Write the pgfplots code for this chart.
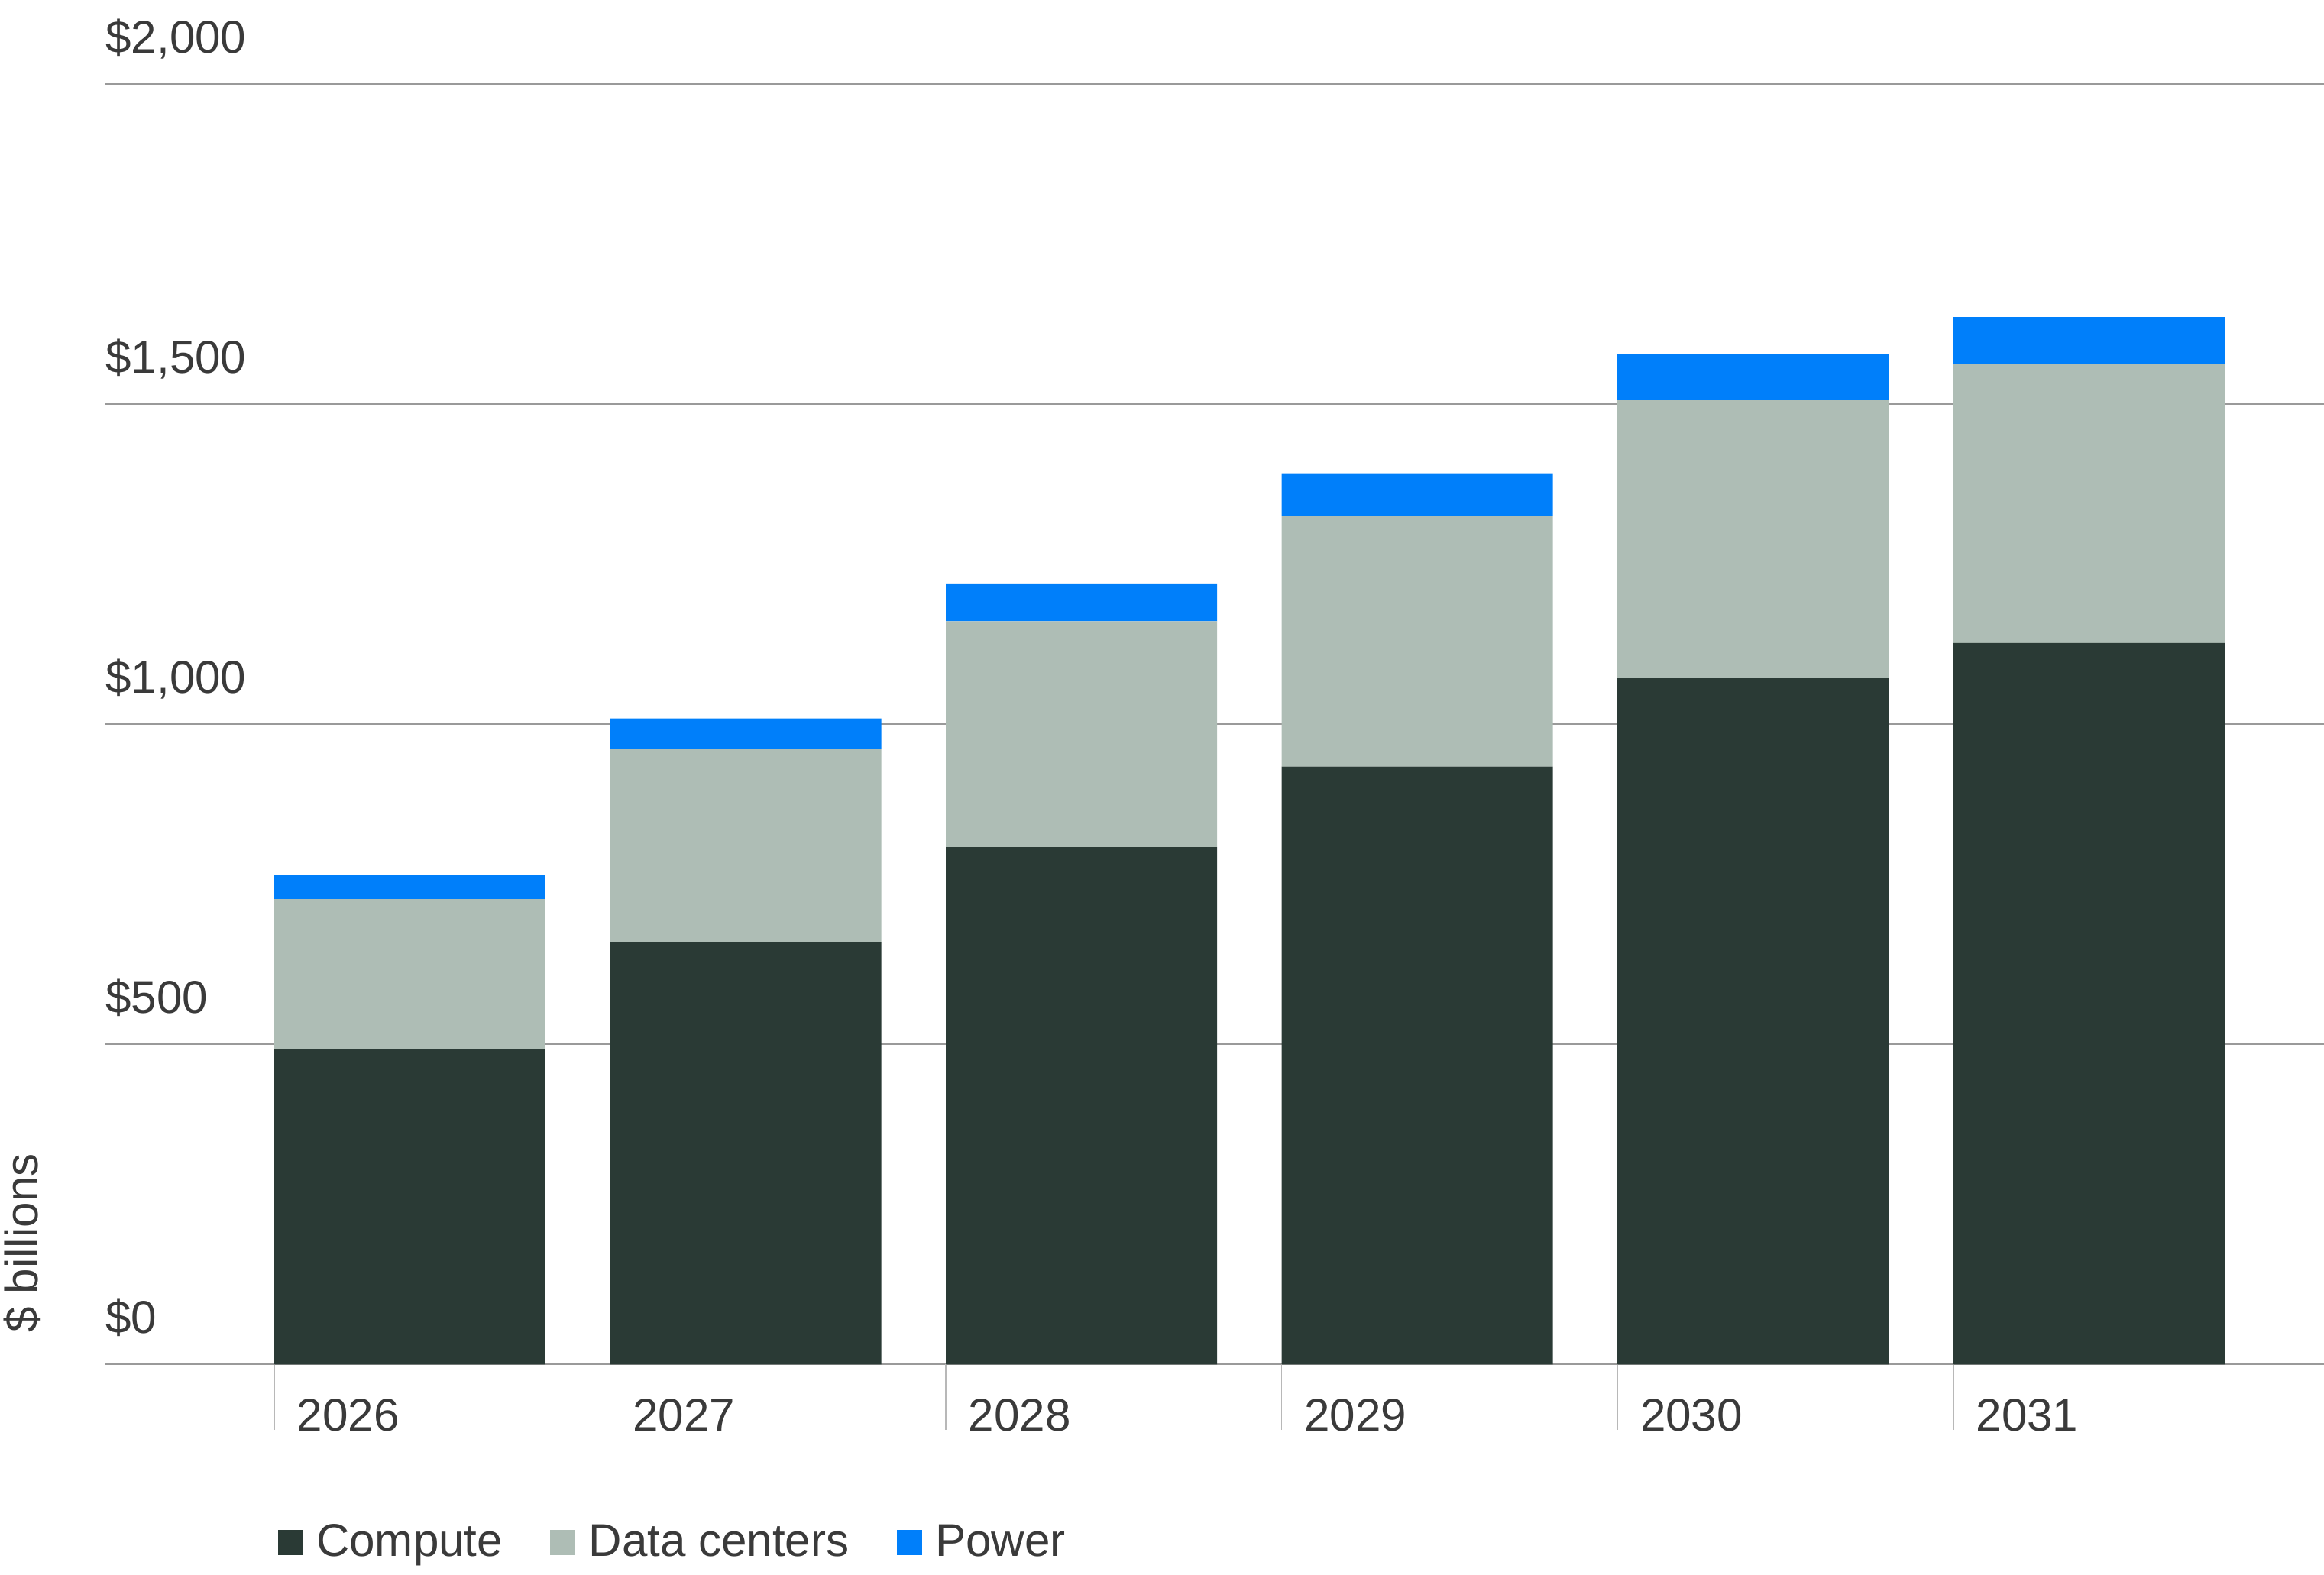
\documentclass[border=0pt]{standalone}
\usepackage{fontspec}
\setmainfont{Liberation Sans}
\usepackage{pgfplots}
\pgfplotsset{compat=1.18}

\definecolor{compute}{HTML}{2A3A35}
\definecolor{datacen}{HTML}{AEBDB5}
\definecolor{power}{HTML}{007FFA}
\definecolor{txt}{HTML}{3A3A3A}
\definecolor{gridc}{HTML}{9A9A9A}

\newcommand{\lblfont}{\fontsize{15.5}{18.6}\selectfont}

\pgfplotsset{
  sq/.style={legend image code/.code={\fill[##1] (0pt,-4.25pt) rectangle (8.5pt,4.25pt);}},
}

\begin{document}
\begin{tikzpicture}[x=1pt,y=1pt]
\path[use as bounding box] (0,0) rectangle (784,531.4);
\begin{axis}[
    at={(35.5pt,71pt)}, anchor=south west,
    scale only axis,
    width=748.5pt, height=432pt,
    xmin=-0.907, xmax=5.70,
    ymin=0, ymax=2000,
    ybar stacked,
    bar width=91.5pt,
    axis line style={draw=none},
    ymajorgrids,
    grid style={gridc, line width=0.5pt},
    xtick={-0.404,0.596,1.596,2.596,3.596,4.596},
    xticklabels={2026,2027,2028,2029,2030,2031},
    ytick={0,500,1000,1500,2000},
    yticklabels={\$0,\$500,{\$1,000},{\$1,500},{\$2,000}},
    xtick pos=left,
    tick align=outside,
    major tick length=22pt,
    x tick style={gridc!70, line width=0.4pt},
    y tick style={draw=none},
    tick label style={font=\lblfont, text=txt, inner sep=0pt},
    xticklabel style={anchor=west, xshift=7.5pt, yshift=5pt},
    yticklabel style={anchor=base west, xshift=22pt, yshift=10.5pt},
    legend style={at={(0.0775,-0.139)}, anchor=west, draw=none, fill=none,
        inner sep=0pt, font=\lblfont, text=txt,
        /tikz/every odd column/.append style={column sep=2.5pt},
        /tikz/every even column/.append style={column sep=14pt}},
    legend columns=-1,
    legend cell align=left,
]
\addplot[fill=compute, draw=none, sq] coordinates {
    (0,493) (1,660) (2,808) (3,934) (4,1073) (5,1127)};
\addlegendentry{Compute}
\addplot[fill=datacen, draw=none, sq] coordinates {
    (0,234) (1,301) (2,353) (3,392) (4,433) (5,436)};
\addlegendentry{Data centers}
\addplot[fill=power, draw=none, sq] coordinates {
    (0,37) (1,48) (2,59) (3,66) (4,72) (5,73)};
\addlegendentry{Power}
\end{axis}
\node[rotate=90, font=\lblfont, text=txt, inner sep=0pt] at (7.5pt,112pt) {\$ billions};
\end{tikzpicture}
\end{document}
